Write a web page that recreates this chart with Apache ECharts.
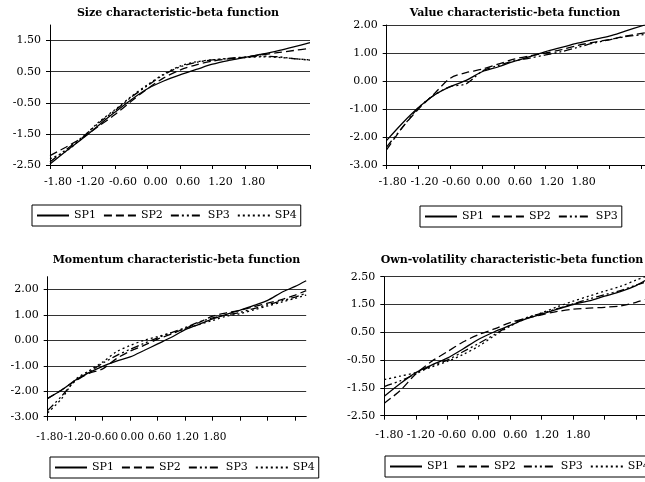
<!DOCTYPE html>
<html><head><meta charset="utf-8">
<script src="https://cdn.jsdelivr.net/npm/echarts@6/dist/echarts.min.js"></script>
<style>html,body{margin:0;padding:0;background:#fff}#c{width:645px;height:482px}</style>
</head><body><div id="c"></div>
<script>
const seriesNames = ['SP1', 'SP2', 'SP3', 'SP4'];
const xTickLabels = ['-1.80', '-1.20', '-0.60', '0.00', '0.60', '1.20', '1.80'];
const xTickValues = [-1.8, -1.2, -0.6, 0, 0.6, 1.2, 1.8, 2.4, 3.0, 3.6];

// Panel 1: Size
const sizeTitle = 'Size characteristic-beta function';
const sizeX = [-1.8, -1.5, -1.2, -0.9, -0.6, -0.3, 0, 0.3, 0.6, 0.9, 1.2, 1.5, 1.8, 2.1, 2.4, 2.7, 3.0];
const sizeSP1 = [-2.47, -2.05, -1.65, -1.22, -0.80, -0.40, -0.05, 0.20, 0.40, 0.57, 0.74, 0.86, 0.96, 1.06, 1.17, 1.30, 1.43];
const sizeSP2 = [-2.20, -1.92, -1.62, -1.25, -0.88, -0.45, -0.05, 0.30, 0.55, 0.72, 0.84, 0.91, 0.97, 1.04, 1.11, 1.18, 1.25];
const sizeSP3 = [-2.40, -2.00, -1.60, -1.15, -0.75, -0.32, 0.05, 0.40, 0.65, 0.80, 0.88, 0.93, 0.97, 1.00, 0.98, 0.92, 0.88];
const sizeSP4 = [-2.30, -2.05, -1.62, -1.12, -0.72, -0.30, 0.08, 0.42, 0.68, 0.82, 0.88, 0.92, 0.95, 0.98, 0.96, 0.92, 0.87];

// Panel 2: Value
const valueTitle = 'Value characteristic-beta function';
const valueX = [-1.8, -1.5, -1.2, -0.9, -0.6, -0.3, 0, 0.3, 0.6, 0.9, 1.2, 1.5, 1.8, 2.1, 2.4, 2.7, 3.07];
const valueSP1 = [-2.12, -1.50, -0.95, -0.50, -0.20, 0.02, 0.33, 0.50, 0.70, 0.87, 1.05, 1.20, 1.35, 1.48, 1.60, 1.78, 2.00];
const valueSP2 = [-2.45, -1.65, -1.00, -0.45, 0.10, 0.30, 0.42, 0.60, 0.78, 0.90, 1.00, 1.12, 1.27, 1.38, 1.48, 1.60, 1.72];
const valueSP3 = [-2.35, -1.65, -0.95, -0.50, -0.20, -0.10, 0.35, 0.55, 0.72, 0.82, 0.93, 1.05, 1.20, 1.35, 1.47, 1.58, 1.66];

// Panel 3: Momentum
const momTitle = 'Momentum characteristic-beta function';
const momX = [-1.8, -1.5, -1.2, -0.9, -0.6, -0.3, 0, 0.3, 0.6, 0.9, 1.2, 1.5, 1.8, 2.1, 2.4, 2.7, 3.0, 3.3, 3.6, 3.84];
const momSP1 = [-2.28, -1.96, -1.57, -1.27, -1.02, -0.82, -0.65, -0.40, -0.14, 0.12, 0.42, 0.63, 0.84, 1.02, 1.19, 1.37, 1.57, 1.88, 2.12, 2.34];
const momSP2 = [-2.28, -1.95, -1.60, -1.30, -1.12, -0.72, -0.42, -0.20, 0.05, 0.25, 0.47, 0.70, 0.95, 1.08, 1.18, 1.32, 1.46, 1.60, 1.78, 1.95];
const momSP3 = [-2.75, -2.20, -1.60, -1.25, -0.90, -0.60, -0.35, -0.12, 0.10, 0.30, 0.50, 0.72, 0.88, 1.00, 1.10, 1.25, 1.40, 1.55, 1.70, 1.85];
const momSP4 = [-2.85, -2.30, -1.55, -1.20, -0.85, -0.45, -0.20, 0.00, 0.15, 0.30, 0.45, 0.62, 0.78, 0.95, 1.05, 1.20, 1.35, 1.50, 1.65, 1.78];

// Panel 4: Own-volatility
const volTitle = 'Own-volatility characteristic-beta function';
const volX = [-1.8, -1.5, -1.2, -0.9, -0.6, -0.3, 0, 0.3, 0.6, 0.9, 1.2, 1.5, 1.8, 2.1, 2.4, 2.7, 3.0, 3.17];
const volSP1 = [-1.80, -1.35, -0.95, -0.68, -0.43, -0.10, 0.25, 0.52, 0.75, 0.98, 1.15, 1.33, 1.50, 1.63, 1.80, 1.96, 2.18, 2.36];
const volSP2 = [-2.05, -1.60, -1.00, -0.55, -0.20, 0.15, 0.42, 0.62, 0.85, 1.00, 1.13, 1.25, 1.33, 1.37, 1.40, 1.45, 1.58, 1.68];
const volSP3 = [-1.45, -1.25, -1.00, -0.70, -0.50, -0.20, 0.10, 0.42, 0.75, 1.02, 1.18, 1.35, 1.52, 1.70, 1.85, 2.00, 2.20, 2.30];
const volSP4 = [-1.20, -1.08, -0.95, -0.75, -0.55, -0.30, 0.00, 0.38, 0.72, 1.00, 1.20, 1.42, 1.62, 1.80, 1.98, 2.15, 2.38, 2.50];

const FONT = 'DejaVu Serif';
const dashStyles = ['solid', [8, 4], [8, 3, 2, 3, 2, 3], [2, 3]];

const panels = [
  { title: sizeTitle, x: sizeX, ys: [sizeSP1, sizeSP2, sizeSP3, sizeSP4],
    grid: { left: 50, top: 25, width: 260, height: 140 }, xMax: 3.0, yMin: -2.5, yMax: 2.0,
    titleX: 178, titleY: 7.5, legend: { left: 32, top: 205 }, labelShift: 16, labelMargin: 12, xFont: 11, topLine: false },
  { title: valueTitle, x: valueX, ys: [valueSP1, valueSP2, valueSP3],
    grid: { left: 386.7, top: 25, width: 258.1, height: 140 }, xMax: 3.07, yMin: -3, yMax: 2,
    titleX: 515, titleY: 7.5, legend: { left: 420, top: 206 }, labelShift: 12, labelMargin: 12, xFont: 11, topLine: true },
  { title: momTitle, x: momX, ys: [momSP1, momSP2, momSP3, momSP4],
    grid: { left: 47.7, top: 276.7, width: 258.5, height: 140 }, xMax: 3.84, yMin: -3, yMax: 2.5,
    titleX: 176.5, titleY: 255, legend: { left: 50, top: 457 }, labelShift: 4, labelMargin: 15, xFont: 10.5, topLine: false },
  { title: volTitle, x: volX, ys: [volSP1, volSP2, volSP3, volSP4],
    grid: { left: 384.3, top: 276.7, width: 261, height: 139 }, xMax: 3.17, yMin: -2.5, yMax: 2.5,
    titleX: 512, titleY: 255, legend: { left: 385, top: 456 }, labelShift: 10, labelMargin: 14, xFont: 11, topLine: true }
];

const option = { animation: false, backgroundColor: '#fff', title: [], grid: [], xAxis: [], yAxis: [], legend: [], series: [] };

panels.forEach((p, i) => {
  option.title.push({
    text: p.title, left: p.titleX, top: p.titleY, textAlign: 'center', padding: 0,
    textStyle: { fontFamily: FONT, fontSize: 11, fontWeight: 'bold', color: '#000' }
  });
  option.grid.push(Object.assign({ containLabel: false }, p.grid));
  option.xAxis.push({
    type: 'value', gridIndex: i, min: -1.8, max: p.xMax, interval: 0.6,
    axisLine: { show: true, onZero: false, lineStyle: { color: '#000', width: 1 } },
    axisTick: { show: true, length: 4, lineStyle: { color: '#000' },
      customValues: xTickValues.filter(v => v <= p.xMax + 1e-9) },
    axisLabel: { customValues: xTickLabels.map(Number), showMinLabel: true, showMaxLabel: true, hideOverlap: false,
      formatter: v => xTickLabels.find(t => Math.abs(Number(t) - v) < 1e-6) || '',
      fontFamily: FONT, fontSize: p.xFont, color: '#000', margin: p.labelMargin, padding: [0, 0, 0, p.labelShift] },
    splitLine: { show: false }
  });
  option.yAxis.push({
    type: 'value', gridIndex: i, min: p.yMin, max: p.yMax, interval: 1,
    axisLine: { show: true, onZero: false, lineStyle: { color: '#000', width: 1 } },
    axisTick: { show: true, length: 4, lineStyle: { color: '#000' } },
    axisLabel: { fontFamily: FONT, fontSize: 11, color: '#000', margin: 9, showMinLabel: true, showMaxLabel: p.topLine,
      formatter: v => v.toFixed(2) },
    splitLine: { show: true, showMaxLine: p.topLine, lineStyle: { color: '#333', width: 1 } }
  });
  const names = seriesNames.slice(0, p.ys.length);
  option.legend.push({
    data: names, left: p.legend.left, top: p.legend.top, orient: 'horizontal', width: 300,
    itemWidth: 32, itemHeight: 10, itemGap: 7, padding: [5, 4],
    borderColor: '#000', borderWidth: 1, borderRadius: 0,
    itemStyle: { opacity: 0 },
    textStyle: { fontFamily: FONT, fontSize: 11, color: '#000' }
  });
  p.ys.forEach((ys, k) => {
    option.series.push({
      type: 'line', name: names[k], xAxisIndex: i, yAxisIndex: i, legendIndex: i,
      data: p.x.map((x, j) => [x, ys[j]]), symbol: 'none', smooth: 0.3,
      lineStyle: { color: '#000', width: 1.3, type: dashStyles[k] },
      itemStyle: { color: '#000' }
    });
  });
});

const chart = echarts.init(document.getElementById('c'), null, { renderer: 'canvas' });
chart.setOption(option);
</script>
</body></html>
